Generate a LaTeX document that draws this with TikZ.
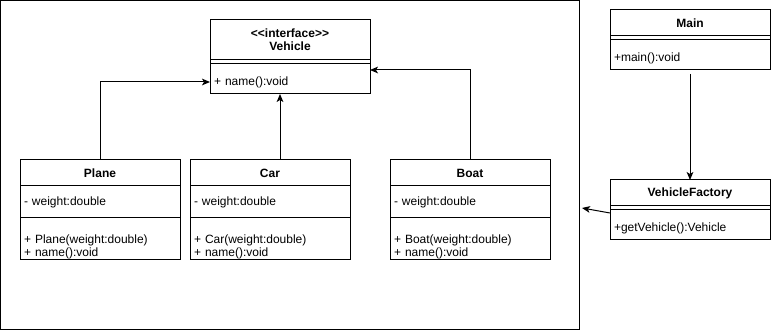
\documentclass[tikz,border=0pt]{standalone}
\usepackage{fontspec}
\setmainfont{Liberation Sans}
\usetikzlibrary{arrows.meta,positioning,fit}

\newcommand{\umlfont}{\fontsize{9}{9.75}\selectfont}
\tikzset{
  box/.style={draw, minimum width=120pt, inner sep=0pt, outer sep=0pt},
  hdr/.style={box, minimum height=19.5pt, align=center, font=\umlfont\bfseries},
  fld/.style={box, text width=114pt, inner xsep=3pt, align=left, font=\umlfont},
  % push compartment text down a little
  low/.style={execute at begin node={\rule{0pt}{#1}}},
  arr/.style={-{Stealth[length=6pt,width=5pt,inset=1.5pt]}},
}

\begin{document}
\begin{tikzpicture}[x=0.75pt, y=-0.75pt, line width=0.75pt, font=\umlfont]
  \useasboundingbox (0,0) rectangle (771,331);
  %draw package frame
  \node[draw, anchor=north west, minimum width=434.6pt, minimum height=247.1pt,
        inner sep=0pt, outer sep=0pt] (frame) at (0.5,0.5) {};
  %draw interface
  \node[hdr, anchor=north west, minimum height=30pt] (vehicle) at (210,20)
    {<\kern0pt<interface>\kern0pt>\\Vehicle};
  \node[fld, low=12pt, minimum height=22.5pt, below=3pt of vehicle] (vehicle-ops) {+ name():void};
  \node[draw, fit=(vehicle)(vehicle-ops), inner sep=0pt] (vehicle-box) {};
  %draw classes
  \foreach \name/\x in {Plane/20, Car/190, Boat/390}{
    \node[hdr, anchor=north west] (\name) at (\x,160) {\name};
    \node[fld, minimum height=24pt, below=0pt of \name] (\name-attr) {- weight:double};
    \node[fld, low=18pt, minimum height=31.5pt, below=0pt of \name-attr] (\name-ops)
      {+ \name(weight:double)\\+ name():void};
  }
  %draw inheritance arrows
  \draw[arr] (Plane.north) |- ([yshift=-2.25pt]vehicle-ops.west);
  \draw[arr] ([xshift=7.5pt]Car.north) -- ([xshift=-7.5pt]vehicle-ops.south);
  \draw[arr] (Boat.north) |- ([yshift=6.75pt]vehicle-ops.east);
  %draw main and factory
  \node[hdr, anchor=north west] (main) at (610,10) {Main};
  \node[fld, low=12pt, minimum height=22.5pt, below=3pt of main] (main-ops) {+main():void};
  \node[draw, fit=(main)(main-ops), inner sep=0pt] (main-box) {};
  \node[hdr, anchor=north west] (factory) at (610,180) {VehicleFactory};
  \node[fld, low=12pt, minimum height=22.5pt, below=3pt of factory] (factory-ops) {+getVehicle():Vehicle};
  \node[draw, fit=(factory)(factory-ops), inner sep=0pt] (factory-box) {};
  %draw usage arrows
  \draw[arr] ([yshift=-3pt]main-ops.south) -- (factory.north);
  \coordinate (frame-in) at (582,208);
  \draw[arr] ([yshift=-2.25pt]factory-ops.north west) -- (frame-in);
\end{tikzpicture}
\end{document}
